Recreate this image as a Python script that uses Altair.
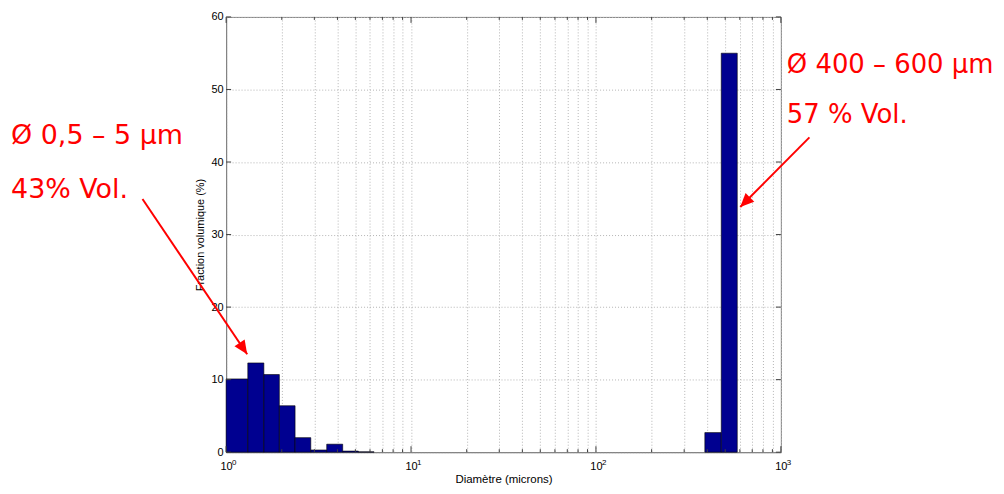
import altair as alt
import pandas as pd

# ---- data ----
bin_lo = [1.0, 1.31, 1.60, 1.94, 2.36, 2.87, 3.50, 4.27, 5.19, 388, 476]
bin_hi = [1.31, 1.60, 1.94, 2.36, 2.87, 3.50, 4.27, 5.19, 6.31, 476, 581]
fraction = [10.1, 12.3, 10.7, 6.4, 2.0, 0.3, 1.1, 0.15, 0.05, 2.7, 55.0]

y_ticks = [0, 10, 20, 30, 40, 50, 60]
x_major = [1, 10, 100, 1000]
x_minor = [2, 3, 4, 5, 6, 7, 8, 9, 20, 30, 40, 50, 60, 70, 80, 90,
           200, 300, 400, 500, 600, 700, 800, 900]
x_exponent = ["0", "1", "2", "3"]

ann_text = ["Ø 0,5 – 5 μm", "43% Vol.", "Ø 400 – 600 μm", "57 % Vol."]
ann_x = [0.0687, 0.0687, 1077, 1077]
ann_y = [42.5, 35.0, 52.3, 45.4]
ann_size = [27, 27, 26, 26]

arrow_x0 = [0.353, 1427]
arrow_y0 = [34.9, 43.4]
arrow_x1 = [1.30, 603]
arrow_y1 = [13.5, 33.8]
arrow_angle = [146, 225]

W, H = 557, 437
RED = "#ff0000"
FONT = "Liberation Sans"

bars_df = pd.DataFrame({"lo": bin_lo, "hi": bin_hi, "v": fraction})
ann_df = pd.DataFrame({"t": ann_text, "x": ann_x, "y": ann_y, "s": ann_size})
arr_df = pd.DataFrame({"x0": arrow_x0, "y0": arrow_y0, "x1": arrow_x1,
                       "y1": arrow_y1, "a": arrow_angle})
ymaj_df = pd.DataFrame({"y": y_ticks})
xmaj_df = pd.DataFrame({"x": x_major, "e": x_exponent})
xmin_df = pd.DataFrame({"x": x_minor})

xs = alt.Scale(type="log", domain=[1, 1000])
ys = alt.Scale(domain=[0, 60], nice=False)

label_expr = "datum.value == 1 || datum.value == 10 || datum.value == 100 || datum.value == 1000 ? '10' : ''"

GRID = "#b4b4b4"

bars = alt.Chart(bars_df).mark_rect(
    color="#000090", stroke="#000000", strokeWidth=0.6
).encode(
    x=alt.X("lo:Q", scale=xs, axis=alt.Axis(
        values=x_major + x_minor, labelExpr=label_expr, title="Diamètre (microns)",
        grid=True, gridDash=[1, 2], gridColor=GRID, ticks=False, tickSize=0,
        labelFlush=False, labelOverlap=False,
        labelPadding=8, titlePadding=2, labelFont=FONT, titleFont=FONT,
        labelFontSize=11, titleFontSize=11.5, titleFontWeight="normal",
        labelColor="#000", titleColor="#000", domainColor="#808080")),
    x2="hi:Q",
    y=alt.Y("v:Q", scale=ys, axis=alt.Axis(
        values=y_ticks, title="Fraction volumique (%)", grid=True, gridDash=[1, 2],
        gridColor=GRID, ticks=False, tickSize=0, labelPadding=3, titlePadding=5,
        labelFlush=False,
        labelFont=FONT, titleFont=FONT, labelFontSize=11, titleFontSize=11,
        titleFontWeight="normal", labelColor="#000", titleColor="#000",
        domainColor="#808080")),
    y2=alt.datum(0),
)

tick_color = "#404040"
yt_left = alt.Chart(ymaj_df).mark_rule(color=tick_color, strokeWidth=1).encode(
    y=alt.Y("y:Q", scale=ys), x=alt.value(0), x2=alt.value(5))
yt_right = alt.Chart(ymaj_df).mark_rule(color=tick_color, strokeWidth=1).encode(
    y=alt.Y("y:Q", scale=ys), x=alt.value(W), x2=alt.value(W - 5))
xt_bot = alt.Chart(xmaj_df).mark_rule(color=tick_color, strokeWidth=1).encode(
    x=alt.X("x:Q", scale=xs), y=alt.value(H), y2=alt.value(H - 6))
xt_top = alt.Chart(xmaj_df).mark_rule(color=tick_color, strokeWidth=1).encode(
    x=alt.X("x:Q", scale=xs), y=alt.value(0), y2=alt.value(6))
xm_bot = alt.Chart(xmin_df).mark_rule(color=tick_color, strokeWidth=1).encode(
    x=alt.X("x:Q", scale=xs), y=alt.value(H), y2=alt.value(H - 3))
xm_top = alt.Chart(xmin_df).mark_rule(color=tick_color, strokeWidth=1).encode(
    x=alt.X("x:Q", scale=xs), y=alt.value(0), y2=alt.value(3))

exps = alt.Chart(xmaj_df).mark_text(
    font=FONT, fontSize=8, align="left", baseline="alphabetic", dx=6, color="#000"
).encode(x=alt.X("x:Q", scale=xs), y=alt.value(H + 13), text="e:N")

ann = alt.Chart(ann_df).mark_text(
    font="DejaVu Sans", align="left", baseline="alphabetic", color=RED
).encode(x=alt.X("x:Q", scale=xs), y=alt.Y("y:Q", scale=ys), text="t:N",
         size=alt.Size("s:Q", scale=None, legend=None))

arrow_line = alt.Chart(arr_df).mark_rule(color=RED, strokeWidth=2).encode(
    x=alt.X("x0:Q", scale=xs), y=alt.Y("y0:Q", scale=ys),
    x2="x1:Q", y2="y1:Q")
arrow_head = alt.Chart(arr_df).mark_point(
    shape="M0,0 L-0.45,1 L0.45,1 Z", filled=True, color=RED, opacity=1,
    size=750, strokeWidth=0
).encode(x=alt.X("x1:Q", scale=xs), y=alt.Y("y1:Q", scale=ys),
         angle=alt.Angle("a:Q", scale=None))

chart = alt.layer(
    bars, yt_left, yt_right, xt_bot, xt_top, xm_bot, xm_top, exps,
    arrow_line, arrow_head, ann
).properties(
    width=W, height=H,
    padding={"left": 219, "top": 8, "right": 216, "bottom": 35},
    autosize=alt.AutoSizeParams(type="none"),
).configure_view(stroke="#808080", strokeWidth=1)

chart.save("out.html", embed_options={"renderer": "svg", "actions": False})
